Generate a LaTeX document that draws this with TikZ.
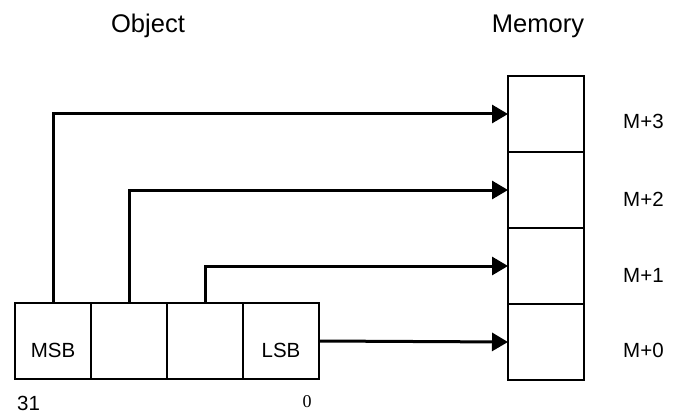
\documentclass[tikz,border=0pt]{standalone}
\usepackage{fontspec}
\setmainfont{Liberation Sans}
\newfontfamily\serifnum{Liberation Serif}
\usetikzlibrary{arrows.meta}
\begin{document}
\begin{tikzpicture}[x=1pt,y=-1pt,
  cell/.style={draw,line width=1.8pt,minimum width=76pt,minimum height=76pt,inner sep=0pt,outer sep=0pt},
  conn/.style={line width=3pt,-{Triangle[length=16pt,width=18pt]}},
  lbl/.style={inner sep=0pt,font=\fontsize{20.5}{24}\selectfont},
  title/.style={inner sep=0pt,font=\fontsize{25.5}{30}\selectfont}]
\useasboundingbox (0,0) rectangle (676,414);
% object cells
\node[cell] (o3) at (53,341) {};
\node[cell] (o2) at (129,341) {};
\node[cell] (o1) at (205,341) {};
\node[cell] (o0) at (281,341) {};
\node[lbl] (msb) at (53,350) {MSB};
\node[lbl] (lsb) at (281,350) {LSB};
\node[lbl,anchor=base west] (b31) at (17,410.5) {31};
\node[inner sep=0pt,anchor=base,font=\serifnum\fontsize{18}{22}\selectfont] (b0) at (307,407) {0};
% memory cells
\node[cell] (m3) at (546,114) {};
\node[cell] (m2) at (546,190) {};
\node[cell] (m1) at (546,266) {};
\node[cell] (m0) at (546,342) {};
\node[lbl,anchor=west] (l3) at (623,121) {M+3};
\node[lbl,anchor=west] (l2) at (623,199) {M+2};
\node[lbl,anchor=west] (l1) at (623,275) {M+1};
\node[lbl,anchor=west] (l0) at (623,350) {M+0};
% titles
\node[title,anchor=base] (tobj) at (148,33) {Object};
\node[title,anchor=base] (tmem) at (538,33) {Memory};
% connectors
\draw[conn] (o3.north) |- (m3.west);
\draw[conn] (o2.north) |- (m2.west);
\draw[conn] (o1.north) |- (m1.west);
\draw[conn] (o0.east) -- (m0.west);
\end{tikzpicture}
\end{document}
